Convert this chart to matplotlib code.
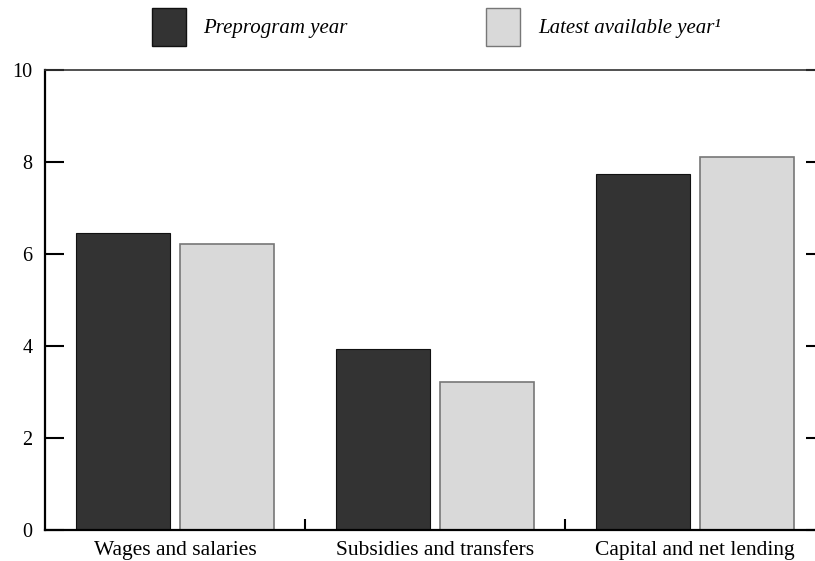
import matplotlib.pyplot as plt
import numpy as np
from matplotlib.patches import Patch

categorias = ["Wages and salaries", "Subsidies and transfers", "Capital and net lending"]
preprogram = [6.46, 3.93, 7.74]
ultimo = [6.22, 3.22, 8.11]
yticks = [0, 2, 4, 6, 8, 10]

plt.rcParams['font.family'] = ['Liberation Serif', 'DejaVu Serif']

fig = plt.figure(figsize=(8.15, 5.61), dpi=100)
# eje algo mas ancho que la figura, como en el original (queda cortado a la derecha)
ax = fig.add_axes([45/815, 31/561, 780/815, 460/561])

x = np.arange(len(categorias))
ancho = 0.363
ax.bar(x - 0.199, preprogram, ancho, color='#333333', edgecolor='#111111', linewidth=0.8)
ax.bar(x + 0.199, ultimo, ancho, color='#d9d9d9', edgecolor='#777777', linewidth=1.2)

ax.set_xlim(-0.5, 2.5)
ax.set_ylim(0, 10)
ax.set_yticks(yticks)
ax.set_yticklabels([str(v) for v in yticks], fontsize=14.5)
ax.tick_params(axis='y', direction='in', length=13.5, width=1.5, right=True, pad=9)

ax.set_xticks([0.5, 1.5])
ax.set_xticklabels([])
ax.tick_params(axis='x', direction='in', length=8, width=1.5)
for i, c in enumerate(categorias):
    ax.text(i, -0.54, c, ha='center', va='baseline', fontsize=15.5)

ax.spines['left'].set_linewidth(1.6)
ax.spines['bottom'].set_linewidth(1.6)
ax.spines['top'].set_linewidth(1.2)
ax.spines['top'].set_color('#333333')
ax.spines['right'].set_linewidth(1.6)

manejadores = [Patch(facecolor='#333333', edgecolor='#111111', label='Preprogram year'),
               Patch(facecolor='#d9d9d9', edgecolor='#777777', label='Latest available year¹')]
fig.legend(handles=manejadores, loc='upper left', bbox_to_anchor=(133/815, 1.019), ncol=2,
           frameon=False, prop={'style': 'italic', 'size': 15},
           handlelength=1.63, handleheight=2.4, handletextpad=0.85, columnspacing=6.65)

fig.savefig('out.png', dpi=100)
